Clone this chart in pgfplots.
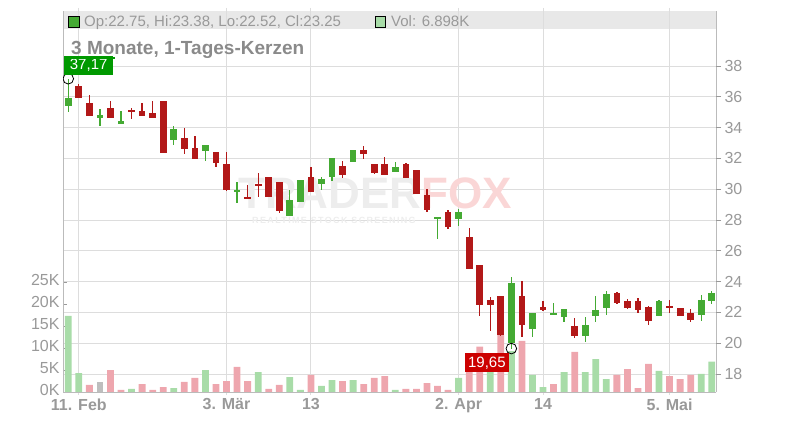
\documentclass[border=0pt]{standalone}
\usepackage{pgfplots}
\pgfplotsset{compat=1.18}
\usepackage{pgfplotstable}
\usepackage{fontspec}
\setmainfont{Liberation Sans}

\definecolor{cgreen}{HTML}{44AA33}
\definecolor{cred}{HTML}{B21818}
\definecolor{vgreen}{HTML}{A8DCA8}
\definecolor{vred}{HTML}{EEA6AE}
\definecolor{vgray}{HTML}{BEBEBE}
\definecolor{gridc}{HTML}{DDDDDD}
\definecolor{axc}{HTML}{BBBBBB}
\definecolor{txtc}{HTML}{999999}
\definecolor{titc}{HTML}{8A8A8A}
\definecolor{hdr}{HTML}{E8E8E8}
\definecolor{maxg}{HTML}{009900}
\definecolor{minr}{HTML}{CC0000}
\definecolor{wmgray}{HTML}{EDEDED}
\definecolor{wmred}{HTML}{FAD6D6}

\pgfplotstableread{
i o h l c
0 35.42 37.17 35.03 35.92
3 34.64 35.21 34.12 34.82
5 34.25 35.08 34.25 34.43
10 33.21 34.10 32.87 33.91
13 32.50 32.87 31.85 32.87
16 29.84 30.47 29.08 29.95
21 28.28 29.95 28.28 29.30
22 29.19 30.60 29.19 30.60
24 30.36 30.79 29.95 30.66
25 30.81 32.01 30.53 32.01
27 31.79 32.55 31.79 32.55
31 31.14 31.77 31.14 31.44
35 28.15 28.17 26.75 28.17
37 28.05 28.69 27.61 28.54
42 19.99 24.30 19.65 23.91
44 20.94 21.96 20.42 21.96
46 21.85 22.61 21.85 21.94
47 21.72 22.22 21.38 22.22
49 20.47 21.70 20.08 21.18
50 21.79 23.06 21.40 22.16
51 22.31 23.41 21.85 23.19
56 21.79 22.81 21.79 22.74
60 21.85 23.13 21.46 22.81
61 22.75 23.38 22.52 23.25
}\greencandles

\pgfplotstableread{
i o h l c
1 36.70 36.83 35.94 35.94
2 35.60 36.12 34.77 34.77
4 35.25 35.73 34.64 34.64
6 35.10 35.29 34.56 35.05
7 35.08 35.60 34.77 34.77
8 34.95 35.73 34.64 34.64
9 35.73 35.73 32.37 32.37
11 33.32 33.97 32.29 32.63
12 32.68 33.45 31.98 31.98
14 32.42 32.42 31.46 31.72
15 31.64 32.42 29.90 29.95
17 29.49 30.27 29.38 29.38
18 30.27 31.05 29.51 30.25
19 30.79 30.79 29.51 29.51
20 30.47 30.47 28.47 28.60
23 30.79 31.44 29.84 29.84
26 31.51 31.81 30.75 30.92
28 32.55 32.82 31.98 32.31
29 31.64 31.64 31.00 31.07
30 31.64 32.09 30.94 30.94
32 31.64 31.70 30.75 30.75
33 31.25 31.25 29.71 29.71
34 29.62 30.01 28.49 28.63
36 28.50 28.65 27.44 27.57
38 26.90 27.48 24.84 24.84
39 25.08 25.10 21.79 22.50
40 22.79 22.98 20.81 22.50
41 23.06 23.06 20.47 20.53
43 23.06 24.04 20.42 21.18
45 22.35 22.74 22.09 22.16
48 21.12 21.64 20.34 20.47
52 23.26 23.32 22.55 22.61
53 22.74 22.87 22.22 22.29
54 22.74 22.94 21.96 22.16
55 22.35 22.42 21.20 21.46
57 22.35 22.81 21.98 22.33
58 22.29 22.29 21.79 21.79
59 21.96 22.22 21.40 21.53
}\redcandles

\pgfplotstableread{
i v
0 17.3
1 4.3
6 0.7
10 0.9
13 5.0
18 4.5
21 3.4
22 0.5
24 1.4
25 2.7
27 2.7
31 0.5
37 3.2
40 6.0
42 9.3
44 3.9
45 1.1
47 4.5
49 4.5
50 7.5
51 2.9
56 4.8
60 4.1
61 6.9
}\volgreen

\pgfplotstableread{
i v
2 1.6
4 5.0
5 0.5
7 1.8
8 0.5
9 1.1
11 2.3
12 3.2
14 1.8
15 2.5
16 5.7
17 2.5
19 0.7
20 1.6
23 3.9
26 2.5
28 1.8
29 3.2
30 3.6
32 0.7
33 0.7
34 2.0
35 1.4
36 0.5
38 7.0
39 10.3
41 13.0
43 11.6
46 1.8
48 9.1
52 3.9
53 5.2
54 0.9
55 6.4
57 3.6
58 2.9
59 3.9
}\volred

\pgfplotstableread{
i v
3 2.3
}\volgray

\pgfplotsset{
  base/.style={
    at={(63bp,28bp)}, anchor=south west, scale only axis,
    width=653bp, height=381bp, xmin=-0.5, xmax=61.4,
    axis line style={draw=none},
  },
  candle/.style 2 args={draw=none, no markers, forget plot,
    error bars/.cd, y dir=both, y explicit, error mark=none,
    error bar style={line width=#1, draw=#2}},
}

\begin{document}
\begin{tikzpicture}[x=1bp,y=1bp]
\path[use as bounding box] (0,0) rectangle (800,420);
% header bar
\fill[hdr] (63,391) rectangle (716,409);

% grid axis
\begin{axis}[base,
  ymin=16.83, ymax=41.57,
  xtick={1,15,23,37,45,57},
  xticklabels={11. Feb, 3. Mär, 13, 2. Apr, 14, 5. Mai},
  ytick={18,20,...,38}, yticklabels={},
  xmajorgrids, ymajorgrids,
  major grid style={draw=gridc, line width=0.9bp},
  tick align=outside, major tick length=3bp,
  xtick style={draw=gridc, line width=0.9bp},
  ytick style={draw=none},
  xticklabel style={font=\fontsize{16bp}{18bp}\selectfont\bfseries, text=txtc},
]
\end{axis}

% watermark
\node[anchor=base west, inner sep=0, font=\fontsize{44bp}{44bp}\selectfont\bfseries, text=wmgray] at (238,212) {TRADER};
\node[anchor=base west, inner sep=0, font=\fontsize{44bp}{44bp}\selectfont\bfseries, text=wmred] at (421,212) {FOX};
\node[anchor=base west, inner sep=0, font=\fontsize{9bp}{10bp}\selectfont\bfseries\addfontfeatures{LetterSpace=15}, text=wmgray] at (252,197) {REALTIME STOCK SCREENING};

% volume axis
\begin{axis}[base,
  ymin=0, ymax=86.6,
  xtick=\empty,
  ytick={0,5,...,25}, yticklabels={0K,5K,10K,15K,20K,25K},
  ytick pos=left, tick align=inside, major tick length=3.5bp,
  ytick style={draw=txtc, line width=0.8bp},
  yticklabel style={font=\fontsize{16bp}{18bp}\selectfont, text=txtc, yshift=2bp},
]
\addplot[ybar, bar width=6.8bp, bar shift=0pt, fill=vgreen, draw=none] table[x=i, y=v] {\volgreen};
\addplot[ybar, bar width=6.8bp, bar shift=0pt, fill=vred, draw=none] table[x=i, y=v] {\volred};
\addplot[ybar, bar width=6.8bp, bar shift=0pt, fill=vgray, draw=none] table[x=i, y=v] {\volgray};
\end{axis}

% axis lines
\draw[axc, line width=0.9bp] (63,28) -- (63,409);
\draw[axc, line width=0.9bp] (716,28) -- (716,409);
\draw[axc, line width=0.9bp] (63,28) -- (716,28);

% price axis
\begin{axis}[base,
  ymin=16.83, ymax=41.57,
  xtick=\empty,
  ytick={18,20,...,38},
  ytick pos=right, yticklabel pos=right,
  tick align=outside, major tick length=5bp,
  ytick style={draw=txtc, line width=0.8bp},
  /pgf/number format/assume math mode=true,
  yticklabel style={font=\fontsize{16bp}{18bp}\selectfont, text=txtc},
]
% wicks
\addplot[candle={1.3bp}{cgreen}]
  table[x=i, y expr={(\thisrow{h}+\thisrow{l})/2}, y error expr={(\thisrow{h}-\thisrow{l})/2}] {\greencandles};
\addplot[candle={1.3bp}{cred}]
  table[x=i, y expr={(\thisrow{h}+\thisrow{l})/2}, y error expr={(\thisrow{h}-\thisrow{l})/2}] {\redcandles};
% bodies
\addplot[candle={6.7bp}{cgreen}]
  table[x=i, y expr={(\thisrow{o}+\thisrow{c})/2}, y error expr={max(abs(\thisrow{c}-\thisrow{o})/2,0.045)}] {\greencandles};
\addplot[candle={6.7bp}{cred}]
  table[x=i, y expr={(\thisrow{o}+\thisrow{c})/2}, y error expr={max(abs(\thisrow{c}-\thisrow{o})/2,0.045)}] {\redcandles};
% max / min markers
\draw[black, line width=0.8bp] (axis cs:0,37.17) circle[radius=5.3bp];
\node[fill=maxg, text=white, anchor=south west, inner sep=0, minimum width=49bp, minimum height=19bp,
  font=\fontsize{15bp}{17bp}\selectfont] at ([xshift=-4.3bp, yshift=3.8bp]axis cs:0,37.17) {37,17};
\draw[black, line width=0.8bp] (axis cs:42,19.65) circle[radius=5.3bp];
\node[fill=minr, text=white, anchor=north east, inner sep=0, minimum width=44bp, minimum height=19bp,
  font=\fontsize{15bp}{17bp}\selectfont] at ([xshift=-2.3bp, yshift=-4.7bp]axis cs:42,19.65) {19,65};
\end{axis}

% header content
\filldraw[fill=cgreen, draw=black, line width=0.8bp] (68.3,392.7) rectangle (79,403.3);
\node[anchor=base west, inner sep=0, font=\fontsize{15bp}{17bp}\selectfont, text=txtc] at (84,393) {Op:22.75, Hi:23.38, Lo:22.52, Cl:23.25};
\filldraw[fill=vgreen, draw=black, line width=0.8bp] (375,392.7) rectangle (385.7,403.3);
\node[anchor=base west, inner sep=0, font=\fontsize{15bp}{17bp}\selectfont, text=txtc] at (391,393) {Vol: 6.898K};

% title
\node[anchor=base west, inner sep=0, font=\fontsize{19bp}{21bp}\selectfont\bfseries, text=titc] at (71,366) {3 Monate, 1-Tages-Kerzen};
\draw[maxg, line width=2.6bp] (71,362) -- (115,362);
\end{tikzpicture}
\end{document}
